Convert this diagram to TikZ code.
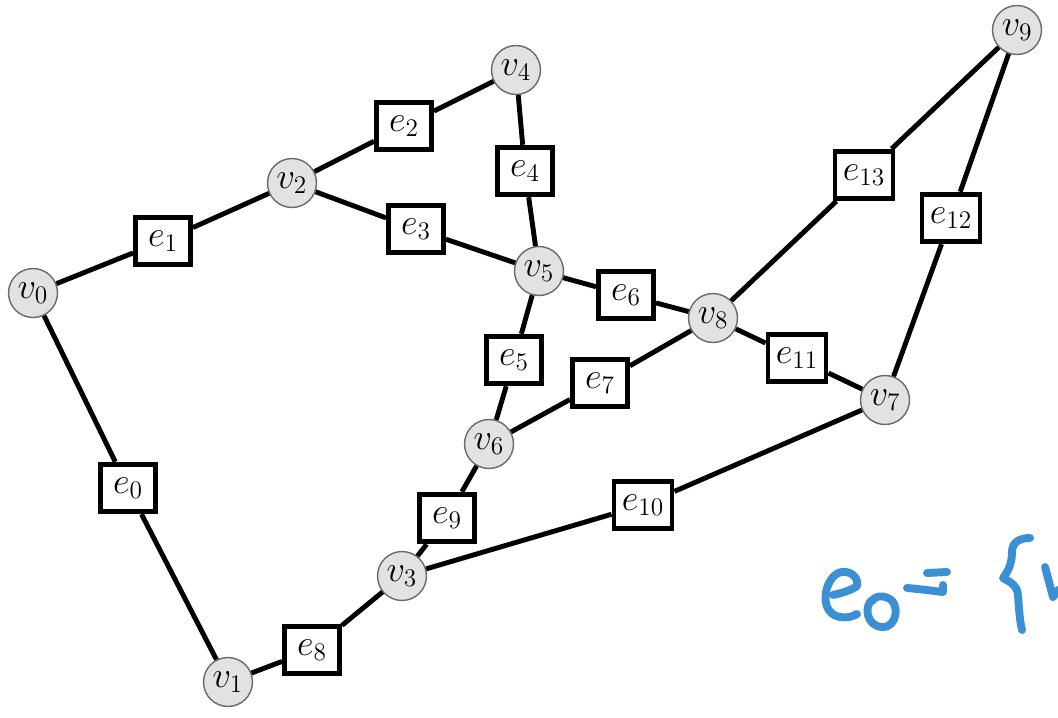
\documentclass[tikz,border=0pt]{standalone}
\usepackage{amsmath}
\definecolor{vfill}{HTML}{E2E2E2}
\definecolor{vline}{HTML}{6A6A6A}
\definecolor{inkblue}{HTML}{3B8FD4}
\begin{document}
\begin{tikzpicture}[x=0.02cm,y=-0.02cm,
  vertex/.style={circle,draw=vline,line width=0.8pt,fill=vfill,minimum size=0.98cm,inner sep=0pt,font=\fontsize{22.5}{26}\selectfont},
  edgebox/.style={rectangle,draw=black,line width=2.8pt,fill=white,minimum width=1.1cm,minimum height=0.95cm,inner xsep=4.5pt,inner ysep=2pt,font=\fontsize{22.5}{26}\selectfont},
  link/.style={line width=2.8pt,black},
  ink/.style={line width=4.5pt,inkblue,line cap=round,line join=round}]
\useasboundingbox (0,0) rectangle (1058,717);

% vertices
\node[vertex] (v0) at (33,293)  {$v_0$};
\node[vertex] (v1) at (228,682) {$v_1$};
\node[vertex] (v2) at (292,183) {$v_2$};
\node[vertex] (v3) at (402,576) {$v_3$};
\node[vertex] (v4) at (516,70)  {$v_4$};
\node[vertex] (v5) at (539,271) {$v_5$};
\node[vertex] (v6) at (489,444) {$v_6$};
\node[vertex] (v7) at (885,400) {$v_7$};
\node[vertex] (v8) at (713,318) {$v_8$};
\node[vertex] (v9) at (1017,30) {$v_9$};

% edge labels
\node[edgebox] (e0)  at (128,488) {$e_0$};
\node[edgebox] (e1)  at (163,241) {$e_1$};
\node[edgebox] (e2)  at (404,126) {$e_2$};
\node[edgebox] (e3)  at (416,229) {$e_3$};
\node[edgebox] (e4)  at (525,171) {$e_4$};
\node[edgebox] (e5)  at (514,360) {$e_5$};
\node[edgebox] (e6)  at (626,295) {$e_6$};
\node[edgebox] (e7)  at (600,383) {$e_7$};
\node[edgebox] (e8)  at (312,650) {$e_8$};
\node[edgebox] (e9)  at (447,518) {$e_9$};
\node[edgebox] (e10) at (643,505) {$e_{10}$};
\node[edgebox] (e11) at (797,358) {$e_{11}$};
\node[edgebox] (e12) at (951,218) {$e_{12}$};
\node[edgebox] (e13) at (864,175) {$e_{13}$};

% connectors: vertex -- edge label -- vertex
\foreach \a/\e/\b in {v0/e0/v1, v0/e1/v2, v2/e2/v4, v2/e3/v5, v4/e4/v5,
                      v5/e5/v6, v5/e6/v8, v6/e7/v8, v1/e8/v3, v3/e9/v6,
                      v3/e10/v7, v8/e11/v7, v7/e12/v9, v8/e13/v9}
  \draw[link] (\a) -- (\e) (\e) -- (\b);

% handwritten note
\draw[ink] (833,595) .. controls (842,593) and (852,590) .. (857,586)
  .. controls (860,574) and (842,566) .. (833,577)
  .. controls (822,590) and (822,614) .. (840,617)
  .. controls (847,618) and (852,617) .. (857,614);
\draw[ink] (872,600) .. controls (864,606) and (866,626) .. (882,627)
  .. controls (898,628) and (900,602) .. (888,598)
  .. controls (881,595) and (875,596) .. (872,601);
\draw[ink] (927,573) -- (947,572);
\draw[ink] (907,588) .. controls (920,589) and (934,591) .. (943,592) -- (943,585);
\draw[ink] (1030,538) .. controls (1020,538) and (1012,542) .. (1012,552)
  .. controls (1012,566) and (1006,574) .. (1003,578)
  .. controls (1010,582) and (1017,585) .. (1018,595)
  .. controls (1019,610) and (1020,622) .. (1022,630);
\draw[ink] (1045,567) -- (1053,597) -- (1058,590);
\end{tikzpicture}
\end{document}
